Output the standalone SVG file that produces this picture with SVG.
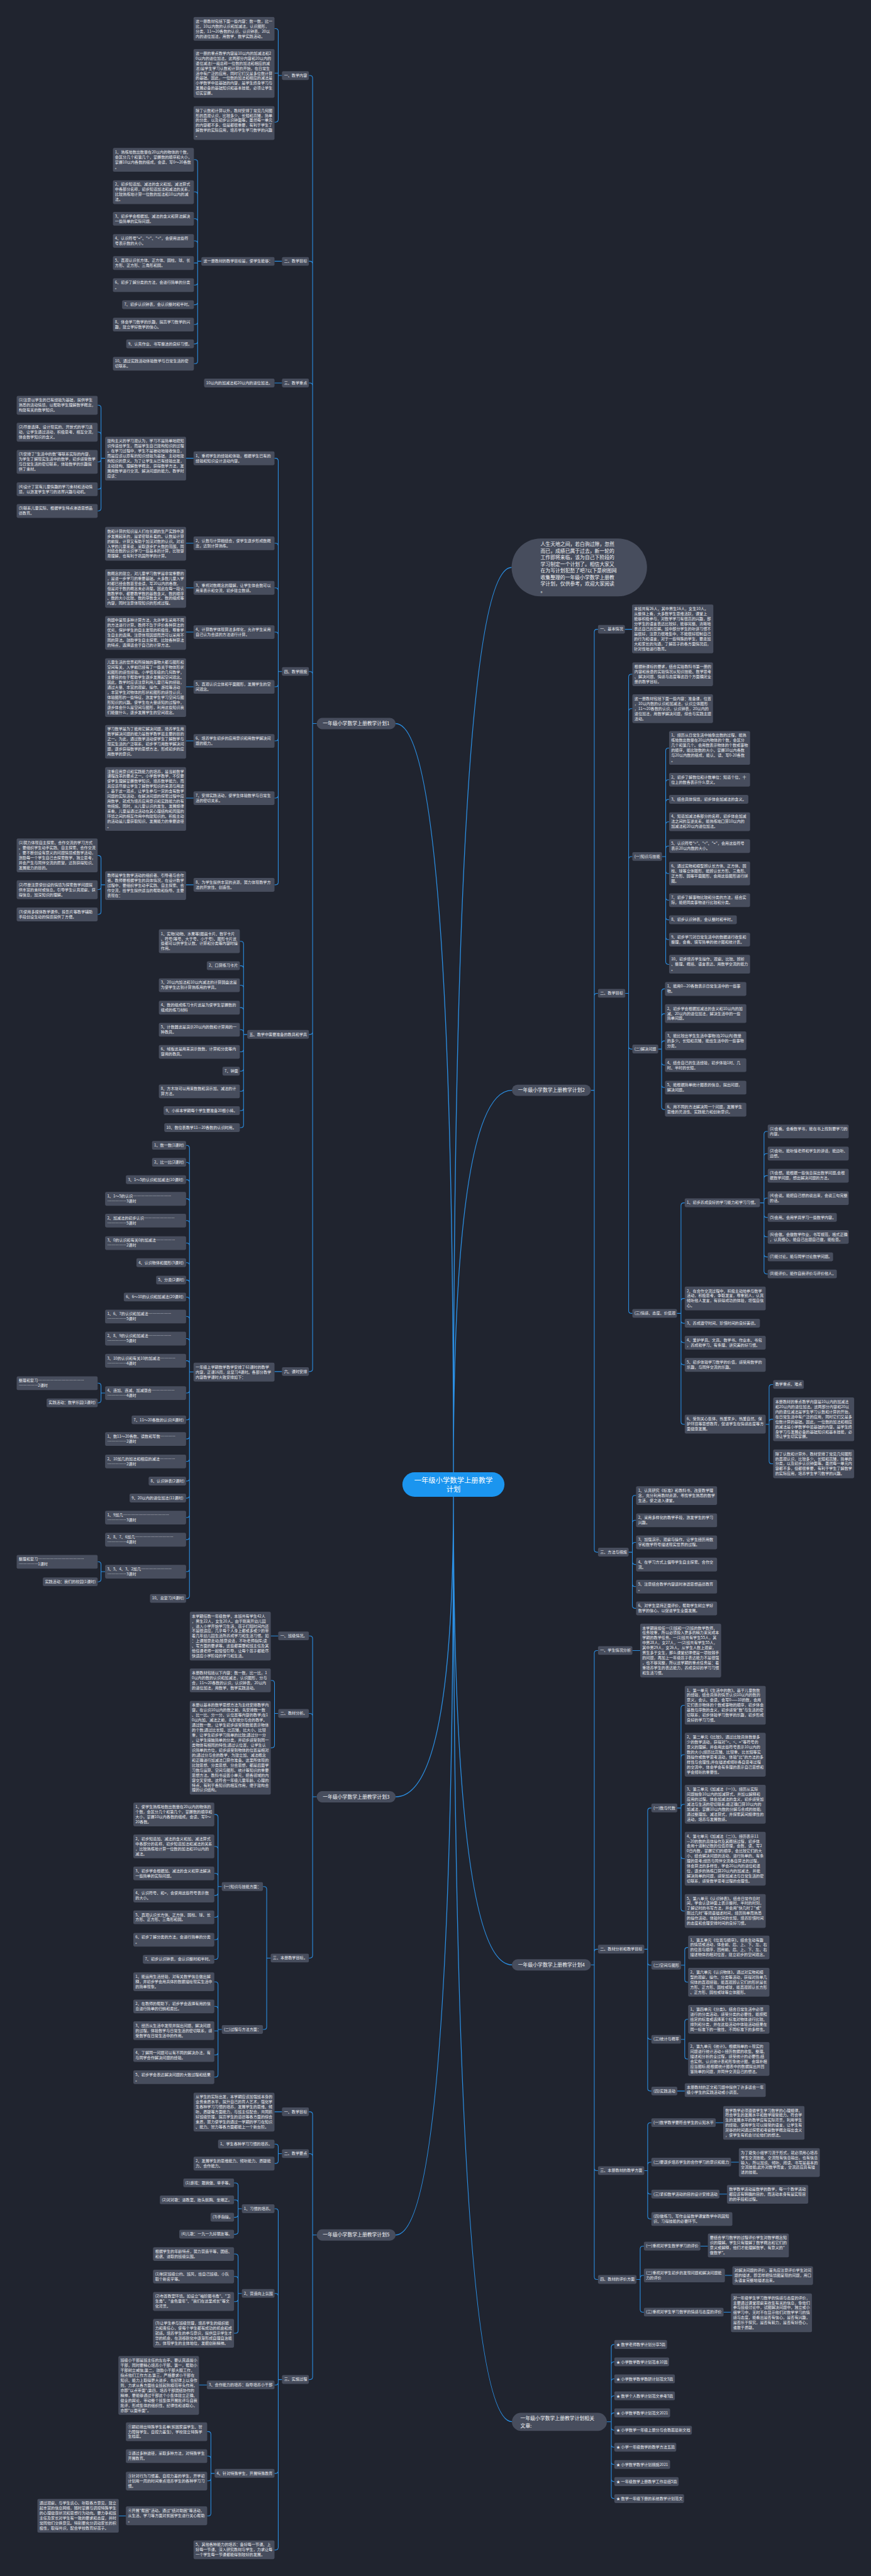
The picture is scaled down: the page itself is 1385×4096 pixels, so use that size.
<svg xmlns="http://www.w3.org/2000/svg" width="1385" height="4096" viewBox="0 0 1385 4096">
<style>
.n{fill:#474d5d}
.t{font-family:"Noto Sans CJK SC","Noto Sans",sans-serif;font-size:11.3px;fill:#e9ebef}
.p{font-family:"Noto Sans CJK SC","Noto Sans",sans-serif;font-size:14.5px;fill:#f2f3f5;text-anchor:middle}
.q{font-family:"Noto Sans CJK SC","Noto Sans",sans-serif;font-size:14.5px;fill:#f2f3f5}
.c{fill:none;stroke:#2b8fe3;stroke-width:2}
.m{fill:none;stroke:#2b8fe3;stroke-width:2.6}
</style>
<rect width="1385" height="4096" fill="#20242f"/>
<g transform="scale(0.5409)">
<g id="connectors">
<path class="m" d="M1333 4328Q1333 1668 1504 1668M1333 4328Q1333 2127 1163 2127M1333 4328Q1333 3205 1505 3205M1333 4400Q1333 5282 1163 5282M1333 4400Q1333 5776 1505 5776M1333 4400Q1333 6570 1163 6570M1333 4400Q1333 7119 1505 7119"/>
<path class="c" d="M931 2127H919V230Q919 222 911 222H908M931 2127H919V776Q919 768 911 768H908M931 2127H919V1134Q919 1126 911 1126H908M931 2127H919V1982Q919 1974 911 1974H908M931 2127H919V3033Q919 3041 911 3041H908M931 2127H919V4024Q919 4032 911 4032H908"/>
<path class="c" d="M829 222H818V92Q818 84 810 84H807M829 222H818V215H807M829 222H818V351Q818 359 810 359H807M829 768H807M829 1126H807M829 4032H807"/>
<path class="c" d="M592 768H581V477Q581 469 573 469H570M592 768H581V572Q581 564 573 564H570M592 768H581V651Q581 643 573 643H570M592 768H581V716Q581 708 573 708H570M592 768H581V773H570M592 768H581V830Q581 838 573 838H570M592 768H581V888Q581 896 573 896H570M592 768H581V946Q581 954 573 954H570M592 768H581V1003Q581 1011 573 1011H570M592 768H581V1061Q581 1069 573 1069H570"/>
<path class="c" d="M829 1974H818V1355Q818 1347 810 1347H807M829 1974H818V1605Q818 1597 810 1597H807M829 1974H818V1736Q818 1728 810 1728H807M829 1974H818V1866Q818 1858 810 1858H807M829 1974H818V2011Q818 2019 810 2019H807M829 1974H818V2170Q818 2178 810 2178H807M829 1974H818V2338Q818 2346 810 2346H807M829 1974H818V2593Q818 2601 810 2601H807"/>
<path class="c" d="M569 1347H547M569 1597H547M569 1728H547M569 1858H547M569 2019H547M569 2178H547M569 2346H547M569 2601H547"/>
<path class="c" d="M309 1347H297V1199Q297 1191 289 1191H287M309 1347H297V1278Q297 1270 289 1270H287M309 1347H297V1350Q297 1358 289 1358H287M309 1347H297V1430Q297 1438 289 1438H287M309 1347H297V1494Q297 1502 289 1502H287M309 2601H297V2523Q297 2515 289 2515H287M309 2601H297V2607Q297 2615 289 2615H287M309 2601H297V2680Q297 2688 289 2688H287"/>
<path class="c" d="M727 3041H716V2775Q716 2767 708 2767H705M727 3041H716V2847Q716 2839 708 2839H705M727 3041H716V2904Q716 2896 708 2896H705M727 3041H716V2970Q716 2962 708 2962H705M727 3041H716V3035Q716 3027 708 3027H705M727 3041H716V3084Q716 3092 708 3092H705M727 3041H716V3141Q716 3149 708 3149H705M727 3041H716V3200Q716 3208 708 3208H705M727 3041H716V3257Q716 3265 708 3265H705M727 3041H716V3307Q716 3315 708 3315H705"/>
<path class="c" d="M569 4033H557V3375Q557 3367 549 3367H547M569 4033H557V3425Q557 3417 549 3417H547M569 4033H557V3476Q557 3468 549 3468H547M569 4033H557V3532Q557 3524 549 3524H547M569 4033H557V3596Q557 3588 549 3588H547M569 4033H557V3662Q557 3654 549 3654H547M569 4033H557V3720Q557 3712 549 3712H547M569 4033H557V3771Q557 3763 549 3763H547M569 4033H557V3821Q557 3813 549 3813H547M569 4033H557V3878Q557 3870 549 3870H547M569 4033H557V3943Q557 3935 549 3935H547M569 4033H557V4008Q557 4000 549 4000H547M569 4033H557V4087Q557 4095 549 4095H547M569 4033H557V4166Q557 4174 549 4174H547M569 4033H557V4222Q557 4230 549 4230H547M569 4033H557V4288Q557 4296 549 4296H547M569 4033H557V4346Q557 4354 549 4354H547M569 4033H557V4396Q557 4404 549 4404H547M569 4033H557V4453Q557 4461 549 4461H547M569 4033H557V4518Q557 4526 549 4526H547M569 4033H557V4612Q557 4620 549 4620H547M569 4033H557V4691Q557 4699 549 4699H547"/>
<path class="c" d="M309 4095H297V4074Q297 4066 289 4066H287M309 4095H297V4116Q297 4124 289 4124H287M309 4620H297V4599Q297 4591 289 4591H287M309 4620H297V4642Q297 4650 289 4650H287"/>
<path class="c" d="M931 5282H919V4817Q919 4809 911 4809H908M931 5282H919V5045Q919 5037 911 5037H908M931 5282H919V5748Q919 5756 911 5756H908M818 4809H796M818 5037H807V4948Q807 4940 799 4940H796M818 5037H807V5130Q807 5138 799 5138H796M796 5756H784V5554Q784 5546 776 5546H773M796 5756H784V5958Q784 5966 776 5966H773"/>
<path class="c" d="M652 5546H641V5342Q641 5334 633 5334H630M652 5546H641V5436Q641 5428 633 5428H630M652 5546H641V5515Q641 5507 633 5507H630M652 5546H641V5564Q641 5572 633 5572H630M652 5546H641V5628Q641 5636 633 5636H630M652 5546H641V5694Q641 5702 633 5702H630M652 5546H641V5752Q641 5760 633 5760H630M652 5966H641V5834Q641 5826 633 5826H630M652 5966H641V5906Q641 5898 633 5898H630M652 5966H641V5970H630M652 5966H641V6033Q641 6041 633 6041H630M652 5966H641V6098Q641 6106 633 6106H630"/>
<path class="c" d="M931 6570H919V6216Q919 6208 911 6208H908M931 6570H919V6339Q919 6331 911 6331H908M931 6570H919V6987Q919 6995 911 6995H908M829 6208H807M829 6331H818V6311Q818 6303 810 6303H807M829 6331H818V6352Q818 6360 810 6360H807"/>
<path class="c" d="M829 6995H818V6501Q818 6493 810 6493H807M829 6995H818V6750Q818 6742 810 6742H807M829 6995H818V7003Q818 7011 810 7011H807M829 6995H818V7263Q818 7271 810 7271H807M829 6995H818V7488Q818 7496 810 7496H807"/>
<path class="c" d="M711 6493H700V6425Q700 6417 692 6417H688M711 6493H700V6475Q700 6467 692 6467H688M711 6493H700V6510Q700 6518 692 6518H688M711 6493H700V6560Q700 6568 692 6568H688M711 6742H700V6634Q700 6626 692 6626H688M711 6742H700V6700Q700 6692 692 6692H688M711 6742H700V6758Q700 6766 692 6766H688M711 6742H700V6851Q700 6859 692 6859H688M608 7011H585"/>
<path class="c" d="M631 7271H620V7156Q620 7148 612 7148H609M631 7271H620V7228Q620 7220 612 7220H609M631 7271H620V7285Q620 7293 612 7293H609M631 7271H620V7388Q620 7396 612 7396H609M370 7396H349"/>
<path class="c" d="M1737 3205H1747V1858Q1747 1850 1755 1850H1758M1737 3205H1747V2928Q1747 2920 1755 2920H1758M1737 3205H1747V4555Q1747 4563 1755 4563H1758M1837 1850H1858"/>
<path class="c" d="M1838 2920H1848V1990Q1848 1982 1856 1982H1859M1838 2920H1848V2091Q1848 2083 1856 2083H1859M1838 2920H1848V2526Q1848 2518 1856 2518H1859M1838 2920H1848V3076Q1848 3084 1856 3084H1859M1838 2920H1848V3853Q1848 3861 1856 3861H1859"/>
<path class="c" d="M1946 2518H1957V2207Q1957 2199 1965 2199H1967M1946 2518H1957V2300Q1957 2292 1965 2292H1967M1946 2518H1957V2358Q1957 2350 1965 2350H1967M1946 2518H1957V2424Q1957 2416 1965 2416H1967M1946 2518H1957V2495Q1957 2487 1965 2487H1967M1946 2518H1957V2560Q1957 2568 1965 2568H1967M1946 2518H1957V2638Q1957 2646 1965 2646H1967M1946 2518H1957V2696Q1957 2704 1965 2704H1967M1946 2518H1957V2754Q1957 2762 1965 2762H1967M1946 2518H1957V2827Q1957 2835 1965 2835H1967"/>
<path class="c" d="M1935 3084H1945V2915Q1945 2907 1953 2907H1955M1935 3084H1945V2988Q1945 2980 1953 2980H1955M1935 3084H1945V3068Q1945 3060 1953 3060H1955M1935 3084H1945V3123Q1945 3131 1953 3131H1955M1935 3084H1945V3189Q1945 3197 1953 3197H1955M1935 3084H1945V3254Q1945 3262 1953 3262H1955"/>
<path class="c" d="M1990 3861H2002V3544Q2002 3536 2010 3536H2013M1990 3861H2002V3825Q2002 3817 2010 3817H2013M1990 3861H2002V3882Q2002 3890 2010 3890H2013M1990 3861H2002V3939Q2002 3947 2010 3947H2013M1990 3861H2002V4004Q2002 4012 2010 4012H2013M1990 3861H2002V4179Q2002 4187 2010 4187H2013"/>
<path class="c" d="M2234 3536H2246V3334Q2246 3326 2254 3326H2257M2234 3536H2246V3399Q2246 3391 2254 3391H2257M2234 3536H2246V3464Q2246 3456 2254 3456H2257M2234 3536H2246V3530Q2246 3522 2254 3522H2257M2234 3536H2246V3571Q2246 3579 2254 3579H2257M2234 3536H2246V3628Q2246 3636 2254 3636H2257M2234 3536H2246V3687Q2246 3695 2254 3695H2257M2234 3536H2246V3737Q2246 3745 2254 3745H2257M2251 4187H2261V4078Q2261 4070 2269 4070H2273M2251 4187H2261V4180Q2261 4172 2269 4172H2273M2251 4187H2261V4295Q2261 4303 2269 4303H2273"/>
<path class="c" d="M1848 4563H1859V4404Q1859 4396 1867 4396H1870M1848 4563H1859V4477Q1859 4469 1867 4469H1870M1848 4563H1859V4542Q1859 4534 1867 4534H1870M1848 4563H1859V4591Q1859 4599 1867 4599H1870M1848 4563H1859V4656Q1859 4664 1867 4664H1870M1848 4563H1859V4720Q1859 4728 1867 4728H1870"/>
<path class="c" d="M1737 5776H1747V4860Q1747 4852 1755 4852H1758M1737 5776H1747V5738Q1747 5730 1755 5730H1758M1737 5776H1747V6373Q1747 6381 1755 6381H1758M1737 5776H1747V6693Q1747 6701 1755 6701H1758M1859 4852H1882"/>
<path class="c" d="M1894 5730H1904V5323Q1904 5315 1912 5315H1915M1894 5730H1904V5769Q1904 5777 1912 5777H1915M1894 5730H1904V5987Q1904 5995 1912 5995H1915M1894 5730H1904V6139Q1904 6147 1912 6147H1915"/>
<path class="c" d="M1991 5315H2002V5021Q2002 5013 2010 5013H2013M1991 5315H2002V5166Q2002 5158 2010 5158H2013M1991 5315H2002V5312Q2002 5304 2010 5304H2013M1991 5315H2002V5456Q2002 5464 2010 5464H2013M1991 5315H2002V5610Q2002 5618 2010 5618H2013M2002 5777H2013V5733Q2013 5725 2021 5725H2023M2002 5777H2013V5819Q2013 5827 2021 5827H2023M2002 5995H2013V5944Q2013 5936 2021 5936H2023M2002 5995H2013V6045Q2013 6053 2021 6053H2023M1991 6147H2013"/>
<path class="c" d="M1894 6381H1904V6248Q1904 6240 1912 6240H1915M1894 6381H1904V6364Q1904 6356 1912 6356H1915M1894 6381H1904V6442Q1904 6450 1912 6450H1915M1894 6381H1904V6515Q1904 6523 1912 6523H1915M2104 6240H2126M2149 6356H2172M2115 6450H2137"/>
<path class="c" d="M1871 6701H1882V6611Q1882 6603 1890 6603H1893M1871 6701H1882V6697Q1882 6689 1890 6689H1893M1871 6701H1882V6789Q1882 6797 1890 6797H1893M2059 6603H2081M2131 6689H2153M2127 6797H2149"/>
<path class="c" d="M1784 7119H1797V6900Q1797 6892 1805 6892H1806M1784 7119H1797V6951Q1797 6943 1805 6943H1806M1784 7119H1797V7001Q1797 6993 1805 6993H1806M1784 7119H1797V7051Q1797 7043 1805 7043H1806M1784 7119H1797V7101Q1797 7093 1805 7093H1806M1784 7119H1797V7136Q1797 7144 1805 7144H1806M1784 7119H1797V7186Q1797 7194 1805 7194H1806M1784 7119H1797V7237Q1797 7245 1805 7245H1806M1784 7119H1797V7287Q1797 7295 1805 7295H1806M1784 7119H1797V7337Q1797 7345 1805 7345H1806"/>
</g>

<g id="center"><rect x="1183" y="4328" width="300" height="72" rx="36" fill="#1b95ef"/><text class="p" x="1333" y="4359" style="font-size:21px;fill:#fff">一年级小学数学上册教学<tspan x="1333" dy="26">计划</tspan></text></g>

<g id="intro"><rect class="n" x="1504" y="1583" width="398" height="170" rx="85"/><text class="q" x="1589" y="1605">人生天地之间，若白驹过隙，忽然<tspan x="1589" dy="19.4">而已，成绩已属于过去，新一轮的</tspan><tspan x="1589" dy="19.4">工作即将来临，该为自己下阶段的</tspan><tspan x="1589" dy="19.4">学习制定一个计划了。相信大家又</tspan><tspan x="1589" dy="19.4">在为写计划犯愁了吧?以下是树图网</tspan><tspan x="1589" dy="19.4">收集整理的一年级小学数学上册教</tspan><tspan x="1589" dy="19.4">学计划，仅供参考，欢迎大家阅读</tspan><tspan x="1589" dy="21">。</tspan></text></g>

<!-- Plan 1 (left) -->
<g id="plan1"><rect class="n" x="931" y="2110.5" width="232" height="33" rx="16.5"/><text class="p" x="1047" y="2132">一年级小学数学上册教学计划1</text></g>
<g id="p1-a1"><rect class="n" x="829" y="209.5" width="79" height="25.7" rx="4"/><text class="t" x="835" y="225.8">一、教学内容</text></g>
<g id="p1-a1-1"><rect class="n" x="569" y="50" width="238" height="69.8" rx="4"/><text class="t" x="575" y="66.3">这一册教材包括下面一些内容：数一数，比一<tspan x="575" dy="14.7">比，10以内数的认识和加减法，认识图形，</tspan><tspan x="575" dy="14.7">分类，11～20各数的认识，认识钟表，20以</tspan><tspan x="575" dy="14.7">内的进位加法，用数学，数学实践活动。</tspan></text></g>
<g id="p1-a1-2"><rect class="n" x="569" y="144" width="238" height="143.3" rx="4"/><text class="t" x="575" y="160.3">这一册的重点教学内容是10以内的加减法和2<tspan x="575" dy="14.7">0以内的进位加法。这两部分内容和20以内的</tspan><tspan x="575" dy="14.7">退位减法(一般总称一位数的加法和相应的减</tspan><tspan x="575" dy="14.7">法)是学生学习认数和计算的开始，在日常生</tspan><tspan x="575" dy="14.7">活中有广泛的应用，同时它们又是多位数计算</tspan><tspan x="575" dy="14.7">的基础。因此，一位数的加法和相应的减法是</tspan><tspan x="575" dy="14.7">小学数学中最基础的内容，是学生终身学习与</tspan><tspan x="575" dy="14.7">发展必备的基础知识和基本技能，必须让学生</tspan><tspan x="575" dy="14.7">切实掌握。</tspan></text></g>
<g id="p1-a1-3"><rect class="n" x="569" y="312" width="238" height="99.2" rx="4"/><text class="t" x="575" y="328.3">除了认数和计算以外，教材安排了常见几何图<tspan x="575" dy="14.7">形的直观认识，比较多少、长短和高矮，简单</tspan><tspan x="575" dy="14.7">的分类，以及初步认识钟面等。虽然每一单元</tspan><tspan x="575" dy="14.7">的内容都不多，但是都很重要，有利于学生了</tspan><tspan x="575" dy="14.7">解数学的实际应用，培养学生学习数学的兴趣</tspan><tspan x="575" dy="14.7">。</tspan></text></g>
<g id="p1-a2"><rect class="n" x="829" y="755.5" width="79" height="25.7" rx="4"/><text class="t" x="835" y="771.8">二、教学目标</text></g>
<g id="p1-a2-0"><rect class="n" x="592" y="755.5" width="215" height="25.7" rx="4"/><text class="t" x="598" y="771.8">这一册教材的教学目标是，使学生能够：</text></g>
<g id="p1-a2-1"><rect class="n" x="332" y="435" width="238" height="69.8" rx="4"/><text class="t" x="338" y="451.3">1、熟练地数出数量在20以内的物体的个数，<tspan x="338" dy="14.7">会区分几个和第几个，掌握数的顺序和大小，</tspan><tspan x="338" dy="14.7">掌握10以内各数的组成，会读、写0～20各数</tspan><tspan x="338" dy="14.7">。</tspan></text></g>
<g id="p1-a2-2"><rect class="n" x="332" y="530" width="238" height="69.8" rx="4"/><text class="t" x="338" y="546.3">2、初步知道加、减法的含义和加、减法算式<tspan x="338" dy="14.7">中各部分名称，初步知道加法和减法的关系，</tspan><tspan x="338" dy="14.7">比较熟练地计算一位数的加法和10以内的减</tspan><tspan x="338" dy="14.7">法。</tspan></text></g>
<g id="p1-a2-3"><rect class="n" x="332" y="623" width="238" height="40.4" rx="4"/><text class="t" x="338" y="639.3">3、初步学会根据加、减法的含义和算法解决<tspan x="338" dy="14.7">一些简单的实际问题。</tspan></text></g>
<g id="p1-a2-4"><rect class="n" x="332" y="688" width="238" height="40.4" rx="4"/><text class="t" x="338" y="704.3">4、认识符号"="、"&gt;"、"&lt;"，会使用这些符<tspan x="338" dy="14.7">号表示数的大小。</tspan></text></g>
<g id="p1-a2-5"><rect class="n" x="332" y="753" width="238" height="40.4" rx="4"/><text class="t" x="338" y="769.3">5、直观认识长方体、正方体、圆柱、球、长<tspan x="338" dy="14.7">方形、正方形、三角形和圆。</tspan></text></g>
<g id="p1-a2-6"><rect class="n" x="332" y="818" width="238" height="40.4" rx="4"/><text class="t" x="338" y="834.3">6、初步了解分类的方法，会进行简单的分类<tspan x="338" dy="14.7">。</tspan></text></g>
<g id="p1-a2-7"><rect class="n" x="359" y="883" width="211" height="25.7" rx="4"/><text class="t" x="365" y="899.3">7、初步认识钟表，会认识整时和半时。</text></g>
<g id="p1-a2-8"><rect class="n" x="332" y="934" width="238" height="40.4" rx="4"/><text class="t" x="338" y="950.3">8、体会学习数学的乐趣，提高学习数学的兴<tspan x="338" dy="14.7">趣，建立学好数学的信心。</tspan></text></g>
<g id="p1-a2-9"><rect class="n" x="371" y="998" width="199" height="25.7" rx="4"/><text class="t" x="377" y="1014.3">9、认真作业、书写整洁的良好习惯。</text></g>
<g id="p1-a2-10"><rect class="n" x="332" y="1049" width="238" height="40.4" rx="4"/><text class="t" x="338" y="1065.3">10、通过实践活动体验数学与日常生活的密<tspan x="338" dy="14.7">切联系。</tspan></text></g>
<g id="p1-a3"><rect class="n" x="829" y="1113" width="79" height="25.7" rx="4"/><text class="t" x="835" y="1129.3">三、教学重点</text></g>
<g id="p1-a3-1"><rect class="n" x="600" y="1113" width="207" height="25.7" rx="4"/><text class="t" x="606" y="1129.3">10以内的加减法和20以内的进位加法。</text></g>
<g id="p1-a4"><rect class="n" x="829" y="1961" width="79" height="25.7" rx="4"/><text class="t" x="835" y="1977.3">四、教学措施</text></g>
<g id="p1-m1"><rect class="n" x="569" y="1327" width="238" height="40.4" rx="4"/><text class="t" x="575" y="1343.3">1、重视学生的经验和体验，根据学生已有的<tspan x="575" dy="14.7">经验和知识设计活动内容。</tspan></text></g>
<g id="p1-m1c"><rect class="n" x="309" y="1284" width="238" height="128.6" rx="4"/><text class="t" x="315" y="1300.3">建构主义的学习观认为，学习不是简单地把知<tspan x="315" dy="14.7">识传递给学生，而是学生自己建构知识的过程</tspan><tspan x="315" dy="14.7">。在学习过程中，学生不是被动地接收信息，</tspan><tspan x="315" dy="14.7">而是应该以原有的知识经验为基础，主动地建</tspan><tspan x="315" dy="14.7">构知识的意义。为了让学生从已有经验出发，</tspan><tspan x="315" dy="14.7">主动建构、理解数学概念，获得数学方法，发</tspan><tspan x="315" dy="14.7">展用数学进行交流、解决问题的能力。教学时</tspan><tspan x="315" dy="14.7">应该：</tspan></text></g>
<g id="p1-m1c1"><rect class="n" x="49" y="1164" width="238" height="55.1" rx="4"/><text class="t" x="55" y="1180.3">(1)注意以学生的已有经验为基础，提供学生<tspan x="55" dy="14.7">熟悉的活动情境，以帮助学生理解数学概念，</tspan><tspan x="55" dy="14.7">构建有关的数学知识。</tspan></text></g>
<g id="p1-m1c2"><rect class="n" x="49" y="1243" width="238" height="55.1" rx="4"/><text class="t" x="55" y="1259.3">(2)尽量选择、设计现实的、开放式的学习活<tspan x="55" dy="14.7">动，让学生通过活动，积极思考、相互交流，</tspan><tspan x="55" dy="14.7">体会数学知识的含义。</tspan></text></g>
<g id="p1-m1c3"><rect class="n" x="49" y="1323" width="238" height="69.8" rx="4"/><text class="t" x="55" y="1339.3">(3)安排了"生活中的数"等联系实际的内容，<tspan x="55" dy="14.7">为学生了解现实生活中的数学，初步感受数学</tspan><tspan x="55" dy="14.7">与日常生活的密切联系，体验数学的乐趣提</tspan><tspan x="55" dy="14.7">供了素材。</tspan></text></g>
<g id="p1-m1c4"><rect class="n" x="49" y="1418" width="238" height="40.4" rx="4"/><text class="t" x="55" y="1434.3">(4)设计了富有儿童情趣的学习素材和活动情<tspan x="55" dy="14.7">境，以激发学生学习的浓厚兴趣与动机。</tspan></text></g>
<g id="p1-m1c5"><rect class="n" x="49" y="1482" width="238" height="40.4" rx="4"/><text class="t" x="55" y="1498.3">(5)联系儿童实际、根据学生特点渗透思想品<tspan x="55" dy="14.7">德教育。</tspan></text></g>
<g id="p1-m2"><rect class="n" x="569" y="1577" width="238" height="40.4" rx="4"/><text class="t" x="575" y="1593.3">2、认数与计算相结合，使学生逐步形成数概<tspan x="575" dy="14.7">念，达到计算熟练。</tspan></text></g>
<g id="p1-m2c"><rect class="n" x="309" y="1549" width="238" height="99.2" rx="4"/><text class="t" x="315" y="1565.3">数和计算的知识是人们在长期的生产实践中逐<tspan x="315" dy="14.7">步发展起来的，是紧密联系着的。认数是计算</tspan><tspan x="315" dy="14.7">的前提，计算又有助于加深对数的认识。对初</tspan><tspan x="315" dy="14.7">入学的儿童来说，采取逐步扩大数的范围，同</tspan><tspan x="315" dy="14.7">时结合数的认识学习一些基本的计算，比较容</tspan><tspan x="315" dy="14.7">易理解，也有利于巩固所学的计算。</tspan></text></g>
<g id="p1-m3"><rect class="n" x="569" y="1708" width="238" height="40.4" rx="4"/><text class="t" x="575" y="1724.3">3、重视对数概念的理解，让学生体会数可以<tspan x="575" dy="14.7">用来表示和交流，初步建立数感。</tspan></text></g>
<g id="p1-m3c"><rect class="n" x="309" y="1673" width="238" height="113.9" rx="4"/><text class="t" x="315" y="1689.3">数概念的建立，对儿童学习数学是非常重要的<tspan x="315" dy="14.7">，是进一步学习的重要基础。大多数儿童入学</tspan><tspan x="315" dy="14.7">时都已经会数甚至会读、写20以内的各数，</tspan><tspan x="315" dy="14.7">但是对于数的概念未必清楚。因此在每一段认</tspan><tspan x="315" dy="14.7">数教学中，都要教学数的基数含义、数的顺序</tspan><tspan x="315" dy="14.7">、数的大小比较、数的序数含义、数的组成等</tspan><tspan x="315" dy="14.7">内容，同时注意体现知识的形成过程。</tspan></text></g>
<g id="p1-m4"><rect class="n" x="569" y="1838" width="238" height="40.4" rx="4"/><text class="t" x="575" y="1854.3">4、计算教学体现算法多样化，允许学生采用<tspan x="575" dy="14.7">自己认为合适的方法进行计算。</tspan></text></g>
<g id="p1-m4c"><rect class="n" x="309" y="1811" width="238" height="99.2" rx="4"/><text class="t" x="315" y="1827.3">例题中呈现多种计算方法，允许学生采用不同<tspan x="315" dy="14.7">的方法进行计算。教师不急于评价各种算法的</tspan><tspan x="315" dy="14.7">优劣，保护学生的自主发现的积极性，尊重学</tspan><tspan x="315" dy="14.7">生自主的选择。注意体现因题而异可以采用不</tspan><tspan x="315" dy="14.7">同的算法。鼓励学生自主探索、比较各种算法</tspan><tspan x="315" dy="14.7">的特点，选择适合于自己的计算方法。</tspan></text></g>
<g id="p1-m5"><rect class="n" x="569" y="1999" width="238" height="40.4" rx="4"/><text class="t" x="575" y="2015.3">5、直观认识立体和平面图形，发展学生的空<tspan x="575" dy="14.7">间观念。</tspan></text></g>
<g id="p1-m5c"><rect class="n" x="309" y="1935" width="238" height="172.7" rx="4"/><text class="t" x="315" y="1951.3">儿童生活的世界和所接触的事物大都与图形和<tspan x="315" dy="14.7">空间有关，入学前已经有了一些关于物体形状</tspan><tspan x="315" dy="14.7">和图形的感性经验。小学低年级的几何教学，</tspan><tspan x="315" dy="14.7">主要目的在于帮助学生逐步发展起空间观念。</tspan><tspan x="315" dy="14.7">因此，教学时应该注意利用儿童已有的经验，</tspan><tspan x="315" dy="14.7">通过大量、丰富的观察、操作、游戏等活动</tspan><tspan x="315" dy="14.7">，丰富学生对物体的形状和图形的感性认识，</tspan><tspan x="315" dy="14.7">体验图形的一些特征，激发学生学习空间与图</tspan><tspan x="315" dy="14.7">形知识的兴趣。使学生在大量感知的过程中，</tspan><tspan x="315" dy="14.7">逐步体会什么是空间与图形，利用这些知识我</tspan><tspan x="315" dy="14.7">们能做什么，逐步发展学生的空间观念。</tspan></text></g>
<g id="p1-m6"><rect class="n" x="569" y="2158" width="238" height="40.4" rx="4"/><text class="t" x="575" y="2174.3">6、培养学生初步的应用意识和用数学解决问<tspan x="575" dy="14.7">题的能力。</tspan></text></g>
<g id="p1-m6c"><rect class="n" x="309" y="2131" width="238" height="99.2" rx="4"/><text class="t" x="315" y="2147.3">学习数学是为了能用它解决问题，培养学生用<tspan x="315" dy="14.7">数学解决问题的能力是数学教学最主要的目的</tspan><tspan x="315" dy="14.7">之一。为此，通过数学活动使学生了解数学与</tspan><tspan x="315" dy="14.7">现实生活的广泛联系，初步学习用数学解决问</tspan><tspan x="315" dy="14.7">题，逐步获得数学的思想方法，形成初步的应</tspan><tspan x="315" dy="14.7">用数学的意识。</tspan></text></g>
<g id="p1-m7"><rect class="n" x="569" y="2326" width="238" height="40.4" rx="4"/><text class="t" x="575" y="2342.3">7、安排实践活动，使学生体验数学与日常生<tspan x="575" dy="14.7">活的密切关系。</tspan></text></g>
<g id="p1-m7c"><rect class="n" x="309" y="2255" width="238" height="187.4" rx="4"/><text class="t" x="315" y="2271.3">注重应用意识和实践能力的培养，是当前数学<tspan x="315" dy="14.7">课程改革的要点之一。小学数学教学，不仅要</tspan><tspan x="315" dy="14.7">使学生理解掌握数学知识，培养数学能力，而</tspan><tspan x="315" dy="14.7">且应该尽量让学生了解数学知识的来源与用途</tspan><tspan x="315" dy="14.7">。基于这一观点，让学生参与一定的含有数学</tspan><tspan x="315" dy="14.7">问题的实际活动，在解决问题的探索过程中应</tspan><tspan x="315" dy="14.7">用数学，就成为培养应用意识和实践能力的有</tspan><tspan x="315" dy="14.7">效措施。同时，从儿童认识的发生、发展规律</tspan><tspan x="315" dy="14.7">来看，儿童是通过活动在其心理结构和周围的</tspan><tspan x="315" dy="14.7">环境之间的相互作用中构建知识的。积极主动</tspan><tspan x="315" dy="14.7">的活动是儿童获取知识、发展能力的重要途径</tspan><tspan x="315" dy="14.7">。</tspan></text></g>
<g id="p1-m8"><rect class="n" x="569" y="2581" width="238" height="40.4" rx="4"/><text class="t" x="575" y="2597.3">8、为学生提供丰富的资源，努力体现教学方<tspan x="575" dy="14.7">法的开放性、创造性。</tspan></text></g>
<g id="p1-m8c"><rect class="n" x="309" y="2561" width="238" height="84.5" rx="4"/><text class="t" x="315" y="2577.3">教师是学生数学活动的组织者、引导者与合作<tspan x="315" dy="14.7">者。教师要根据学生的具体情况，在设计教学</tspan><tspan x="315" dy="14.7">过程中，要组织学生动手实践、自主探索、合</tspan><tspan x="315" dy="14.7">作交流，给学生提供适当的帮助和指导。主要</tspan><tspan x="315" dy="14.7">表现在：</tspan></text></g>
<g id="p1-m8c1"><rect class="n" x="49" y="2465" width="238" height="99.2" rx="4"/><text class="t" x="55" y="2481.3">(1)努力体现自主探索、合作交流的学习方式<tspan x="55" dy="14.7">。要组织学生动手实践、自主探索、合作交流</tspan><tspan x="55" dy="14.7">，要不断创设有意义的问题情境或数学活动，</tspan><tspan x="55" dy="14.7">激励每一个学生自己去探索数学，独立思考，</tspan><tspan x="55" dy="14.7">并会产生与同伴交流的愿望，达到获得知识、</tspan><tspan x="55" dy="14.7">发展能力的目的。</tspan></text></g>
<g id="p1-m8c2"><rect class="n" x="49" y="2588" width="238" height="55.1" rx="4"/><text class="t" x="55" y="2604.3">(2)尽量注意使创设的情境为探索数学问题提<tspan x="55" dy="14.7">供丰富的素材或信息。引导学生认真观察、获</tspan><tspan x="55" dy="14.7">得信息，加深知识的理解。</tspan></text></g>
<g id="p1-m8c3"><rect class="n" x="49" y="2668" width="238" height="40.4" rx="4"/><text class="t" x="55" y="2684.3">(3)使用多媒体教学课件、投影片等教学辅助<tspan x="55" dy="14.7">手段创设生动的情境提供了方便。</tspan></text></g>
<g id="p1-a5"><rect class="n" x="727" y="3028" width="181" height="25.7" rx="4"/><text class="t" x="733" y="3044.3">五、教学中需要准备的教具和学具</text></g>
<g id="p1-t1"><rect class="n" x="467" y="2732" width="238" height="69.8" rx="4"/><text class="t" x="473" y="2748.3">1、实物(动物、水果等)图画卡片、数字卡片<tspan x="473" dy="14.7">、符号(等号、大于号、小于号)、图形卡片这</tspan><tspan x="473" dy="14.7">些都可以供学生认数、计算和分类等内容时操</tspan><tspan x="473" dy="14.7">作用。</tspan></text></g>
<g id="p1-t2"><rect class="n" x="608" y="2826" width="97" height="25.7" rx="4"/><text class="t" x="614" y="2842.3">2、口算练习卡片</text></g>
<g id="p1-t3"><rect class="n" x="467" y="2876" width="238" height="40.4" rx="4"/><text class="t" x="473" y="2892.3">3、20以内加法和10以内减法的计算圆盘这是<tspan x="473" dy="14.7">为使学生达到计算熟练用的学具。</tspan></text></g>
<g id="p1-t4"><rect class="n" x="467" y="2942" width="238" height="40.4" rx="4"/><text class="t" x="473" y="2958.3">4、数的组成练习卡片这是为使学生掌握数的<tspan x="473" dy="14.7">组成的练习材料</tspan></text></g>
<g id="p1-t5"><rect class="n" x="467" y="3007" width="238" height="40.4" rx="4"/><text class="t" x="473" y="3023.3">5、计数器这是演示20以内的数和计算用的一<tspan x="473" dy="14.7">种教具。</tspan></text></g>
<g id="p1-t6"><rect class="n" x="467" y="3072" width="238" height="40.4" rx="4"/><text class="t" x="473" y="3088.3">6、绒板这是用来演示数数、计算和分类等内<tspan x="473" dy="14.7">容用的教具。</tspan></text></g>
<g id="p1-t7"><rect class="n" x="654" y="3136" width="51" height="25.7" rx="4"/><text class="t" x="660" y="3152.3">7、钟面</text></g>
<g id="p1-t8"><rect class="n" x="467" y="3188" width="238" height="40.4" rx="4"/><text class="t" x="473" y="3204.3">8、方木块可以用来数数和演示加、减法的计<tspan x="473" dy="14.7">算方法。</tspan></text></g>
<g id="p1-t9"><rect class="n" x="481" y="3252" width="224" height="25.7" rx="4"/><text class="t" x="487" y="3268.3">9、小棒本学期每个学生要准备20根小棒。</text></g>
<g id="p1-t10"><rect class="n" x="483" y="3302" width="222" height="25.7" rx="4"/><text class="t" x="489" y="3318.3">10、数位表教学11—20各数的认识时用。</text></g>
<g id="p1-a6"><rect class="n" x="829" y="4019" width="79" height="25.7" rx="4"/><text class="t" x="835" y="4035.3">六、课时安排</text></g>
<g id="p1-a6c"><rect class="n" x="569" y="4006" width="238" height="55.1" rx="4"/><text class="t" x="575" y="4022.3">一年级上学期数学教学安排了61课时的教学<tspan x="575" dy="14.7">内容，正课16周，总复习4课时。各部分教学</tspan><tspan x="575" dy="14.7">内容教学课时大致安排如下：</tspan></text></g>
<g id="p1-k1"><rect class="n" x="447" y="3354" width="100" height="25.7" rx="4"/><text class="t" x="453" y="3370.3">1、数一数(1课时)</text></g>
<g id="p1-k2"><rect class="n" x="447" y="3404" width="100" height="25.7" rx="4"/><text class="t" x="453" y="3420.3">2、比一比(2课时)</text></g>
<g id="p1-k3"><rect class="n" x="370" y="3455" width="177" height="25.7" rx="4"/><text class="t" x="376" y="3471.3">3、1～5的认识和加减法(10课时)</text></g>
<g id="p1-k3a"><rect class="n" x="309" y="3504" width="238" height="40.4" rx="4"/><text class="t" x="315" y="3520.3">1、1～5的认识…………………………<tspan x="315" dy="14.7">……………3课时</tspan></text></g>
<g id="p1-k3b"><rect class="n" x="309" y="3568" width="238" height="40.4" rx="4"/><text class="t" x="315" y="3584.3">2、加减法的初步认识……………………<tspan x="315" dy="14.7">……………5课时</tspan></text></g>
<g id="p1-k3c"><rect class="n" x="309" y="3634" width="238" height="40.4" rx="4"/><text class="t" x="315" y="3650.3">3、0的认识和有关0的加减法……………<tspan x="315" dy="14.7">……………2课时</tspan></text></g>
<g id="p1-k4"><rect class="n" x="401" y="3699" width="146" height="25.7" rx="4"/><text class="t" x="407" y="3715.3">4、认识物体和图形(3课时)</text></g>
<g id="p1-k5"><rect class="n" x="459" y="3750" width="88" height="25.7" rx="4"/><text class="t" x="465" y="3766.3">5、分类(2课时)</text></g>
<g id="p1-k6"><rect class="n" x="364" y="3800" width="183" height="25.7" rx="4"/><text class="t" x="370" y="3816.3">6、6～10的认识和加减法(20课时)</text></g>
<g id="p1-k6a"><rect class="n" x="309" y="3850" width="238" height="40.4" rx="4"/><text class="t" x="315" y="3866.3">1、6、7的认识和加减法………………<tspan x="315" dy="14.7">……………5课时</tspan></text></g>
<g id="p1-k6b"><rect class="n" x="309" y="3915" width="238" height="40.4" rx="4"/><text class="t" x="315" y="3931.3">2、8、9的认识和加减法………………<tspan x="315" dy="14.7">……………5课时</tspan></text></g>
<g id="p1-k6c"><rect class="n" x="309" y="3980" width="238" height="40.4" rx="4"/><text class="t" x="315" y="3996.3">3、10的认识和有关10的加减法…………<tspan x="315" dy="14.7">……………4课时</tspan></text></g>
<g id="p1-k6d"><rect class="n" x="309" y="4075" width="238" height="40.4" rx="4"/><text class="t" x="315" y="4091.3">4、连加、连减、加减混合………………<tspan x="315" dy="14.7">……………4课时</tspan></text></g>
<g id="p1-k6d1"><rect class="n" x="49" y="4046" width="238" height="40.4" rx="4"/><text class="t" x="55" y="4062.3">整理和复习………………………………<tspan x="55" dy="14.7">……………2课时</tspan></text></g>
<g id="p1-k6d2"><rect class="n" x="137" y="4111" width="150" height="25.7" rx="4"/><text class="t" x="143" y="4127.3">实践活动：数学乐园(1课时)</text></g>
<g id="p1-k7"><rect class="n" x="387" y="4161" width="160" height="25.7" rx="4"/><text class="t" x="393" y="4177.3">7、11～20各数的认识(4课时)</text></g>
<g id="p1-k7a"><rect class="n" x="309" y="4210" width="238" height="40.4" rx="4"/><text class="t" x="315" y="4226.3">1、数11～20各数、读数和写数…………<tspan x="315" dy="14.7">……………2课时</tspan></text></g>
<g id="p1-k7b"><rect class="n" x="309" y="4276" width="238" height="40.4" rx="4"/><text class="t" x="315" y="4292.3">2、10加几的加法和相应的减法…………<tspan x="315" dy="14.7">……………2课时</tspan></text></g>
<g id="p1-k8"><rect class="n" x="437" y="4341" width="110" height="25.7" rx="4"/><text class="t" x="443" y="4357.3">8、认识钟表(2课时)</text></g>
<g id="p1-k9"><rect class="n" x="381" y="4391" width="166" height="25.7" rx="4"/><text class="t" x="387" y="4407.3">9、20以内的进位加法(11课时)</text></g>
<g id="p1-k9a"><rect class="n" x="309" y="4441" width="238" height="40.4" rx="4"/><text class="t" x="315" y="4457.3">1、9加几………………………………<tspan x="315" dy="14.7">……………3课时</tspan></text></g>
<g id="p1-k9b"><rect class="n" x="309" y="4506" width="238" height="40.4" rx="4"/><text class="t" x="315" y="4522.3">2、8、7、6加几…………………………<tspan x="315" dy="14.7">……………4课时</tspan></text></g>
<g id="p1-k9c"><rect class="n" x="309" y="4600" width="238" height="40.4" rx="4"/><text class="t" x="315" y="4616.3">3、5、4、3、2加几……………………<tspan x="315" dy="14.7">……………3课时</tspan></text></g>
<g id="p1-k9c1"><rect class="n" x="49" y="4571" width="238" height="40.4" rx="4"/><text class="t" x="55" y="4587.3">整理和复习………………………………<tspan x="55" dy="14.7">……………1课时</tspan></text></g>
<g id="p1-k9c2"><rect class="n" x="126" y="4637" width="161" height="25.7" rx="4"/><text class="t" x="132" y="4653.3">实践活动：我们的校园(1课时)</text></g>
<g id="p1-k10"><rect class="n" x="441" y="4686" width="106" height="25.7" rx="4"/><text class="t" x="447" y="4702.3">10、总复习(4课时)</text></g>

<!-- Plan 3 (left) -->
<g id="plan3"><rect class="n" x="931" y="5265.5" width="232" height="33" rx="16.5"/><text class="p" x="1047" y="5287">一年级小学数学上册教学计划3</text></g>
<g id="p3-b1"><rect class="n" x="818" y="4796" width="90" height="25.7" rx="4"/><text class="t" x="824" y="4812.3">一、班级情况。</text></g>
<g id="p3-b1c"><rect class="n" x="558" y="4738" width="238" height="143.3" rx="4"/><text class="t" x="564" y="4754.3">本学期任教一年级数学，本班共有学生42人<tspan x="564" dy="14.7">，男生22人，女生20人。由于刚离开幼儿园</tspan><tspan x="564" dy="14.7">，进入小学开始学习生活，孩子们短时间内还</tspan><tspan x="564" dy="14.7">不是很适应，几乎每个人身上都或多或少的带</tspan><tspan x="564" dy="14.7">着几年幼儿园生活所养成学习和生活习惯。如</tspan><tspan x="564" dy="14.7">：上课随意走动;随意说话，不听老师指挥;读</tspan><tspan x="564" dy="14.7">、写方面的要求等。这些都需要和班主任及其</tspan><tspan x="564" dy="14.7">他任课老师一起慢慢引导，让每个孩子都能尽</tspan><tspan x="564" dy="14.7">快适应小学阶段的学习和生活。</tspan></text></g>
<g id="p3-b2"><rect class="n" x="818" y="5024" width="90" height="25.7" rx="4"/><text class="t" x="824" y="5040.3">二、教材分析。</text></g>
<g id="p3-b2c1"><rect class="n" x="558" y="4905" width="238" height="69.8" rx="4"/><text class="t" x="564" y="4921.3">本册教材包括以下内容：数一数，比一比，1<tspan x="564" dy="14.7">0以内的数的认识和加减法，认识图形，分与</tspan><tspan x="564" dy="14.7">合，11～20各数的认识，认识钟表，20以内</tspan><tspan x="564" dy="14.7">的进位加法，用数学，数学实践活动。</tspan></text></g>
<g id="p3-b2c2"><rect class="n" x="558" y="5000" width="238" height="275.6" rx="4"/><text class="t" x="564" y="5016.3">本册以基本的数学思想方法为主线安排教学内<tspan x="564" dy="14.7">容。在认识10以内的数之前，先安排数一数</tspan><tspan x="564" dy="14.7">、比一比、分一分、认位置等内容的教学;在1</tspan><tspan x="564" dy="14.7">0以内加、减法之前，先安排分与合的教学。</tspan><tspan x="564" dy="14.7">通过数一数，让学生初步感受到数能表示物体</tspan><tspan x="564" dy="14.7">的个数;通过比长短、比高矮，比大小、比轻</tspan><tspan x="564" dy="14.7">重，让学生初步学习简单的比较;通过分一分</tspan><tspan x="564" dy="14.7">，让学生接触简单的分类，并初步感受到同一</tspan><tspan x="564" dy="14.7">类物体有相同的特性;通过认位置，让学生认</tspan><tspan x="564" dy="14.7">识简单的方位，初步感受到物体的位置是相对</tspan><tspan x="564" dy="14.7">的;通过分与合的教学，为建立加、减法概念</tspan><tspan x="564" dy="14.7">和正确进行加减法口算作准备。这里所体现的</tspan><tspan x="564" dy="14.7">比较思想、分类思想、分合思想，都是后面学</tspan><tspan x="564" dy="14.7">习数与运算、空间与图形、统计等知识的重要</tspan><tspan x="564" dy="14.7">思想方法。教科书设置小单元，把各领域的内</tspan><tspan x="564" dy="14.7">容交叉安排。这符合一年级儿童年龄、心理的</tspan><tspan x="564" dy="14.7">特点，有利于各知识的相互作用，便于建构合</tspan><tspan x="564" dy="14.7">理的认识结构。</tspan></text></g>
<g id="p3-b3"><rect class="n" x="796" y="5743" width="112" height="25.7" rx="4"/><text class="t" x="802" y="5759.3">三、本册教学目标。</text></g>
<g id="p3-b3a"><rect class="n" x="652" y="5533" width="121" height="25.7" rx="4"/><text class="t" x="658" y="5549.3">(一)知识与技能方面：</text></g>
<g id="p3-b3a1"><rect class="n" x="392" y="5299" width="238" height="69.8" rx="4"/><text class="t" x="398" y="5315.3">1、使学生熟练地数出数量在20以内的物体的<tspan x="398" dy="14.7">个数，会区分几个和第几个，掌握数的顺序和</tspan><tspan x="398" dy="14.7">大小，掌握10以内各数的组成，会读、写0～</tspan><tspan x="398" dy="14.7">20各数。</tspan></text></g>
<g id="p3-b3a2"><rect class="n" x="392" y="5393" width="238" height="69.8" rx="4"/><text class="t" x="398" y="5409.3">2、初步知道加、减法的含义和加、减法算式<tspan x="398" dy="14.7">中各部分的名称，初步知道加法和减法的关系</tspan><tspan x="398" dy="14.7">，比较熟练地计算一位数的加法和10以内的</tspan><tspan x="398" dy="14.7">减法。</tspan></text></g>
<g id="p3-b3a3"><rect class="n" x="392" y="5487" width="238" height="40.4" rx="4"/><text class="t" x="398" y="5503.3">3、初步学会根据加、减法的含义和算法解决<tspan x="398" dy="14.7">一些简单的实际问题。</tspan></text></g>
<g id="p3-b3a4"><rect class="n" x="392" y="5552" width="238" height="40.4" rx="4"/><text class="t" x="398" y="5568.3">4、认识符号、和=，会使用这些符号表示数<tspan x="398" dy="14.7">的大小。</tspan></text></g>
<g id="p3-b3a5"><rect class="n" x="392" y="5616" width="238" height="40.4" rx="4"/><text class="t" x="398" y="5632.3">5、直观认识长方体、正方体、圆柱、球、长<tspan x="398" dy="14.7">方形、正方形、三角形和圆。</tspan></text></g>
<g id="p3-b3a6"><rect class="n" x="392" y="5682" width="238" height="40.4" rx="4"/><text class="t" x="398" y="5698.3">6、初步了解分类的方法，会进行简单的分类<tspan x="398" dy="14.7">。</tspan></text></g>
<g id="p3-b3a7"><rect class="n" x="420" y="5747" width="210" height="25.7" rx="4"/><text class="t" x="426" y="5763.3">7、初步认识钟表，会认识整时和半时。</text></g>
<g id="p3-b3b"><rect class="n" x="652" y="5953" width="121" height="25.7" rx="4"/><text class="t" x="658" y="5969.3">(二)过程与方法方面：</text></g>
<g id="p3-b3b1"><rect class="n" x="392" y="5798" width="238" height="55.1" rx="4"/><text class="t" x="398" y="5814.3">1、能运用生活经验，对有关数学信息做出解<tspan x="398" dy="14.7">释，并初步学会用具体的数据描绘现实生活中</tspan><tspan x="398" dy="14.7">的简单现象。</tspan></text></g>
<g id="p3-b3b2"><rect class="n" x="392" y="5878" width="238" height="40.4" rx="4"/><text class="t" x="398" y="5894.3">2、在教师的帮助下，初步学会选择有用的信<tspan x="398" dy="14.7">息进行简单的归纳和类比。</tspan></text></g>
<g id="p3-b3b3"><rect class="n" x="392" y="5942" width="238" height="55.1" rx="4"/><text class="t" x="398" y="5958.3">3、经历从生活中发现并提出问题、解决问题<tspan x="398" dy="14.7">的过程，体验数学与日常生活的密切联系，感</tspan><tspan x="398" dy="14.7">受数学在日常生活中的作用。</tspan></text></g>
<g id="p3-b3b4"><rect class="n" x="392" y="6021" width="238" height="40.4" rx="4"/><text class="t" x="398" y="6037.3">4、了解同一问题可以有不同的解决办法，有<tspan x="398" dy="14.7">与同学合作解决问题的经验。</tspan></text></g>
<g id="p3-b3b5"><rect class="n" x="392" y="6086" width="238" height="40.4" rx="4"/><text class="t" x="398" y="6102.3">5、初步学会表达解决问题的大致过程和结果<tspan x="398" dy="14.7">。</tspan></text></g>

<!-- Plan 5 (left) -->
<g id="plan5"><rect class="n" x="931" y="6553.5" width="232" height="33" rx="16.5"/><text class="p" x="1047" y="6575">一年级小学数学上册教学计划5</text></g>
<g id="p5-c1"><rect class="n" x="829" y="6195" width="79" height="25.7" rx="4"/><text class="t" x="835" y="6211.3">一、教学目标</text></g>
<g id="p5-c1c"><rect class="n" x="569" y="6152" width="238" height="113.9" rx="4"/><text class="t" x="575" y="6168.3">从学生的实际出发，本学期应该加强班本身的<tspan x="575" dy="14.7">业务素质水平，提升自己的育人艺术，强化学</tspan><tspan x="575" dy="14.7">生各种学习习惯的培养，发展学生的思维、倾</tspan><tspan x="575" dy="14.7">听、质疑等方面能力，与班主任配合，共同抓</tspan><tspan x="575" dy="14.7">好班级管理，提高学生的道德等各方面的综合</tspan><tspan x="575" dy="14.7">素质，努力使学生的通过一学期的学习在知识</tspan><tspan x="575" dy="14.7">、能力、智力等各方面都能上一个新台阶。</tspan></text></g>
<g id="p5-c2"><rect class="n" x="829" y="6318" width="79" height="25.7" rx="4"/><text class="t" x="835" y="6334.3">二、教学要点</text></g>
<g id="p5-c2a"><rect class="n" x="641" y="6290" width="166" height="25.7" rx="4"/><text class="t" x="647" y="6306.3">1、学生各种学习习惯的培养。</text></g>
<g id="p5-c2b"><rect class="n" x="569" y="6340" width="238" height="40.4" rx="4"/><text class="t" x="575" y="6356.3">2、发展学生的思维能力、倾听能力、质疑能<tspan x="575" dy="14.7">力、合作能力。</tspan></text></g>
<g id="p5-c3"><rect class="n" x="829" y="6982" width="79" height="25.7" rx="4"/><text class="t" x="835" y="6998.3">三、实施过程</text></g>
<g id="p5-c3a"><rect class="n" x="711" y="6480" width="96" height="25.7" rx="4"/><text class="t" x="717" y="6496.3">1、习惯的培养。</text></g>
<g id="p5-c3a1"><rect class="n" x="539" y="6404" width="149" height="25.7" rx="4"/><text class="t" x="545" y="6420.3">(1)游戏：跟我做、举手等。</text></g>
<g id="p5-c3a2"><rect class="n" x="470" y="6454" width="218" height="25.7" rx="4"/><text class="t" x="476" y="6470.3">(2)对对歌：进教室、抬头挺胸、坐端正。</text></g>
<g id="p5-c3a3"><rect class="n" x="619" y="6505" width="69" height="25.7" rx="4"/><text class="t" x="625" y="6521.3">(3)手指操。</text></g>
<g id="p5-c3a4"><rect class="n" x="527" y="6555" width="161" height="25.7" rx="4"/><text class="t" x="533" y="6571.3">(4)儿歌：一九一九好朋友等。</text></g>
<g id="p5-c3b"><rect class="n" x="711" y="6729" width="96" height="25.7" rx="4"/><text class="t" x="717" y="6745.3">2、营造向上氛围</text></g>
<g id="p5-c3b1"><rect class="n" x="450" y="6606" width="238" height="40.4" rx="4"/><text class="t" x="456" y="6622.3">根据学生的年龄特点，努力营造平等、团结、<tspan x="456" dy="14.7">和谐、进取的班级氛围。</tspan></text></g>
<g id="p5-c3b2"><rect class="n" x="450" y="6672" width="238" height="40.4" rx="4"/><text class="t" x="456" y="6688.3">(1)制定班级公约、班风，给自己班级、小队<tspan x="456" dy="14.7">取个新名字等。</tspan></text></g>
<g id="p5-c3b3"><rect class="n" x="450" y="6738" width="238" height="55.1" rx="4"/><text class="t" x="456" y="6754.3">(2)布置教室环境。如设立"袖珍图书角"、"卫<tspan x="456" dy="14.7">生角"、"金色童年"、"我们在这里成长"等文</tspan><tspan x="456" dy="14.7">化背景。</tspan></text></g>
<g id="p5-c3b4"><rect class="n" x="450" y="6817" width="238" height="84.5" rx="4"/><text class="t" x="456" y="6833.3">(3)让学生参与班级管理，培养学生的组织能<tspan x="456" dy="14.7">力和责任心，使每个学生都有成功的机会和成</tspan><tspan x="456" dy="14.7">就感。培养学生的参与意识，提供显示学生才</tspan><tspan x="456" dy="14.7">华的机会，在潜移默化中逐渐形成自理自治能</tspan><tspan x="456" dy="14.7">力，体现学生的主体地位，发掘创新精神。</tspan></text></g>
<g id="p5-c3c"><rect class="n" x="608" y="6998" width="199" height="25.7" rx="4"/><text class="t" x="614" y="7014.3">3、合作能力的培养：指导培养小干部</text></g>
<g id="p5-c3c1"><rect class="n" x="348" y="6926" width="237" height="172.7" rx="4"/><text class="t" x="354" y="6942.3">班级小干部是班主任的左右手。要认真选拔小<tspan x="354" dy="14.7">干部，同时要精心培养小干部。第一，帮助小</tspan><tspan x="354" dy="14.7">干部树立威信;第二，鼓励小干部大胆工作，</tspan><tspan x="354" dy="14.7">指点他们工作方法;第三，严格要求小干部在</tspan><tspan x="354" dy="14.7">知识、能力上取得更大进步，在纪律上以身作</tspan><tspan x="354" dy="14.7">则，力求从各方面给全班起到模范带头作用，</tspan><tspan x="354" dy="14.7">亦即"以点带面";第四，培养干部团结协作的</tspan><tspan x="354" dy="14.7">精神，要能够通过干部这个小集体建立正确、</tspan><tspan x="354" dy="14.7">健全的舆论，带动整个班集体开展批评与自我</tspan><tspan x="354" dy="14.7">批评，形成集体的组织性、纪律性和进取心，</tspan><tspan x="354" dy="14.7">亦即"以面带面"。</tspan></text></g>
<g id="p5-c3d"><rect class="n" x="631" y="7258" width="176" height="25.7" rx="4"/><text class="t" x="637" y="7274.3">4、针对特殊学生，开展特殊教育</text></g>
<g id="p5-c3d1"><rect class="n" x="370" y="7121" width="239" height="55.1" rx="4"/><text class="t" x="376" y="7137.3">①期初排出特殊学生名单(贫困家庭学生、智<tspan x="376" dy="14.7">力障碍学生、自控力差生)，学校建立特殊学</tspan><tspan x="376" dy="14.7">生档案。</tspan></text></g>
<g id="p5-c3d2"><rect class="n" x="370" y="7200" width="239" height="40.4" rx="4"/><text class="t" x="376" y="7216.3">②通过多种途径，采取多种方法，对特殊学生<tspan x="376" dy="14.7">开展教育。</tspan></text></g>
<g id="p5-c3d3"><rect class="n" x="370" y="7266" width="239" height="55.1" rx="4"/><text class="t" x="376" y="7282.3">③针对行为习惯差、自控力差的学生，开学初<tspan x="376" dy="14.7">计划用一周的时间重点培养学生的各种学习习</tspan><tspan x="376" dy="14.7">惯。</tspan></text></g>
<g id="p5-c3d4"><rect class="n" x="370" y="7368" width="239" height="55.1" rx="4"/><text class="t" x="376" y="7384.3">④开展"帮困"活动。通过"结对助困"等活动，<tspan x="376" dy="14.7">从生活、学习等方面对贫困学生进行关心帮助</tspan><tspan x="376" dy="14.7">。</tspan></text></g>
<g id="p5-c3d4a"><rect class="n" x="110" y="7346" width="239" height="99.2" rx="4"/><text class="t" x="116" y="7362.3">通过观察、与学生谈心、听取各方意见，建立<tspan x="116" dy="14.7">起丰富的信息网络，随时掌握与调控特殊学生</tspan><tspan x="116" dy="14.7">的心理健康状况和思想行为动向。要力争和班</tspan><tspan x="116" dy="14.7">主任及家长对学生有一致的要求和态度，并时</tspan><tspan x="116" dy="14.7">常同他们交换意见。特别要充分调动家长的积</tspan><tspan x="116" dy="14.7">极性，取得共识，配合学校教育好孩子。</tspan></text></g>
<g id="p5-c3e"><rect class="n" x="569" y="7468" width="238" height="55.1" rx="4"/><text class="t" x="575" y="7484.3">5、其他各种能力的培养：备好每一节课、上<tspan x="575" dy="14.7">好每一节课、深入研究教材与学生，力求让每</tspan><tspan x="575" dy="14.7">一个学生每一节课都能得到较好的发展。</tspan></text></g>

<!-- Plan 2 (right) -->
<g id="plan2"><rect class="n" x="1505" y="3188.5" width="232" height="33" rx="16.5"/><text class="p" x="1621" y="3210">一年级小学数学上册教学计划2</text></g>
<g id="p2-d1"><rect class="n" x="1758" y="1837" width="79" height="25.7" rx="4"/><text class="t" x="1764" y="1853.3">一、基本情况</text></g>
<g id="p2-d1c"><rect class="n" x="1858" y="1777" width="239" height="143.3" rx="4"/><text class="t" x="1864" y="1793.3">本班共有26人，其中男生16人，女生10人。<tspan x="1864" dy="14.7">从整体上看，大多数学生思维活跃，课堂上</tspan><tspan x="1864" dy="14.7">能够积极参与，对数学学习有很高的兴趣，部</tspan><tspan x="1864" dy="14.7">分学生的语言表达比较好，能够完整、清晰地</tspan><tspan x="1864" dy="14.7">表达自己的见解。班中部分学生的听讲习惯不</tspan><tspan x="1864" dy="14.7">是很好，注意力很难集中，不能很好控制自己</tspan><tspan x="1864" dy="14.7">的行为和语言，对于一些特殊的学生，要走加</tspan><tspan x="1864" dy="14.7">大和家长的沟通，了解孩子的各方面情况后，</tspan><tspan x="1864" dy="14.7">针对性地进行教育。</tspan></text></g>
<g id="p2-d2"><rect class="n" x="1758" y="2907" width="80" height="25.7" rx="4"/><text class="t" x="1764" y="2923.3">二、教学目标</text></g>
<g id="p2-d2a"><rect class="n" x="1859" y="1947" width="237" height="69.8" rx="4"/><text class="t" x="1865" y="1963.3">根据新课标的要求，结合实验教科书第一册的<tspan x="1865" dy="14.7">内容和我县的实验情况从知识技能、数学思考</tspan><tspan x="1865" dy="14.7">、解决问题、情感与态度等这四个方面确定全</tspan><tspan x="1865" dy="14.7">册的教学目标。</tspan></text></g>
<g id="p2-d2b"><rect class="n" x="1859" y="2041" width="237" height="84.5" rx="4"/><text class="t" x="1865" y="2057.3">这一册教材包括下面一些内容：准备课，位置<tspan x="1865" dy="14.7">，10以内数的认识和加减法，认识立体图形</tspan><tspan x="1865" dy="14.7">，11～20各数的认识，认识钟表，20以内的</tspan><tspan x="1865" dy="14.7">进位加法，用数学解决问题，综合与实践主题</tspan><tspan x="1865" dy="14.7">活动。</tspan></text></g>
<g id="p2-d2c"><rect class="n" x="1859" y="2505" width="87" height="25.7" rx="4"/><text class="t" x="1865" y="2521.3">(一)知识与技能</text></g>
<g id="p2-k1"><rect class="n" x="1967" y="2149" width="238" height="99.2" rx="4"/><text class="t" x="1973" y="2165.3">1、经历从日常生活中抽象出数的过程，能熟<tspan x="1973" dy="14.7">练地数出数量在20以内物体的个数，会区分</tspan><tspan x="1973" dy="14.7">几个和第几个。会用数表示物体的个数或事物</tspan><tspan x="1973" dy="14.7">的顺序，能比较数的大小，掌握10以内各数</tspan><tspan x="1973" dy="14.7">与20以内数的组成，能认、读、写0-20各数</tspan><tspan x="1973" dy="14.7">。</tspan></text></g>
<g id="p2-k2"><rect class="n" x="1967" y="2272" width="238" height="40.4" rx="4"/><text class="t" x="1973" y="2288.3">2、初步了解数位和计数单位：知道个位、十<tspan x="1973" dy="14.7">位上的数各表示什么意义。</tspan></text></g>
<g id="p2-k3"><rect class="n" x="1967" y="2337" width="233" height="25.7" rx="4"/><text class="t" x="1973" y="2353.3">3、结合具体情境，初步体会加减法的含义。</text></g>
<g id="p2-k4"><rect class="n" x="1967" y="2388" width="238" height="55.1" rx="4"/><text class="t" x="1973" y="2404.3">4、知道加减法各部分的名称，初步体会加减<tspan x="1973" dy="14.7">法之间的互逆关系，能熟练地口算10以内的</tspan><tspan x="1973" dy="14.7">加减法和20以内进位加法。</tspan></text></g>
<g id="p2-k5"><rect class="n" x="1967" y="2467" width="238" height="40.4" rx="4"/><text class="t" x="1973" y="2483.3">5、认识符号"&gt;"、"&lt;"、"="，会用这些符号<tspan x="1973" dy="14.7">表示20以内数的大小。</tspan></text></g>
<g id="p2-k6"><rect class="n" x="1967" y="2533" width="238" height="69.8" rx="4"/><text class="t" x="1973" y="2549.3">6、通过实物和模型辨认长方体、正方体、圆<tspan x="1973" dy="14.7">柱、球等立体图形，能辨认长方形、三角形、</tspan><tspan x="1973" dy="14.7">正方形、圆等平面图形，会用这些图形进行拼</tspan><tspan x="1973" dy="14.7">图。</tspan></text></g>
<g id="p2-k7"><rect class="n" x="1967" y="2626" width="238" height="40.4" rx="4"/><text class="t" x="1973" y="2642.3">7、初步了解事物比较和分类的方法，结合实<tspan x="1973" dy="14.7">际，能把同类事物进行比较和分类。</tspan></text></g>
<g id="p2-k8"><rect class="n" x="1967" y="2691" width="199" height="25.7" rx="4"/><text class="t" x="1973" y="2707.3">8、初步认识钟表，会认整时和半时。</text></g>
<g id="p2-k9"><rect class="n" x="1967" y="2742" width="238" height="40.4" rx="4"/><text class="t" x="1973" y="2758.3">9、初步学习对日常生活中的数据进行收集和<tspan x="1973" dy="14.7">整理，会看、填写简单的统计图和统计表。</tspan></text></g>
<g id="p2-k10"><rect class="n" x="1967" y="2807" width="238" height="55.1" rx="4"/><text class="t" x="1973" y="2823.3">10、初步培养学生操作、观察、比较、辨析<tspan x="1973" dy="14.7">、整理、概括、语言表达、用数学交流的能力</tspan><tspan x="1973" dy="14.7">。</tspan></text></g>
<g id="p2-d2d"><rect class="n" x="1859" y="3071" width="76" height="25.7" rx="4"/><text class="t" x="1865" y="3087.3">(二)解决问题</text></g>
<g id="p2-s1"><rect class="n" x="1955" y="2887" width="239" height="40.4" rx="4"/><text class="t" x="1961" y="2903.3">1、能用0—20各数表示日常生活中的一些事<tspan x="1961" dy="14.7">物。</tspan></text></g>
<g id="p2-s2"><rect class="n" x="1955" y="2952" width="239" height="55.1" rx="4"/><text class="t" x="1961" y="2968.3">2、初步学会根据加减法的含义和10以内的加<tspan x="1961" dy="14.7">减、20以内的进位加法，解决生活中的一些</tspan><tspan x="1961" dy="14.7">简单问题。</tspan></text></g>
<g id="p2-s3"><rect class="n" x="1955" y="3032" width="239" height="55.1" rx="4"/><text class="t" x="1961" y="3048.3">3、能比较出学生生活中事物(在20以内)数量<tspan x="1961" dy="14.7">的多少、长短和高矮，能给生活中的一些事物</tspan><tspan x="1961" dy="14.7">分类。</tspan></text></g>
<g id="p2-s4"><rect class="n" x="1955" y="3111" width="239" height="40.4" rx="4"/><text class="t" x="1961" y="3127.3">4、结合自己的生活经验，初步体验1时、几<tspan x="1961" dy="14.7">时、半时的长短。</tspan></text></g>
<g id="p2-s5"><rect class="n" x="1955" y="3177" width="239" height="40.4" rx="4"/><text class="t" x="1961" y="3193.3">5、能根据简单统计图表的信息，提出问题，<tspan x="1961" dy="14.7">解决问题。</tspan></text></g>
<g id="p2-s6"><rect class="n" x="1955" y="3242" width="239" height="40.4" rx="4"/><text class="t" x="1961" y="3258.3">6、用不同的方法解决同一个问题，发展学生<tspan x="1961" dy="14.7">思维的灵活性、实践能力和创新意识。</tspan></text></g>
<g id="p2-d2e"><rect class="n" x="1859" y="3848" width="131" height="25.7" rx="4"/><text class="t" x="1865" y="3864.3">(三)情感、态度、价值观</text></g>
<g id="p2-e1"><rect class="n" x="2013" y="3523" width="221" height="25.7" rx="4"/><text class="t" x="2019" y="3539.3">1、初步养成良好的学习能力和学习习惯。</text></g>
<g id="p2-e1a"><rect class="n" x="2257" y="3306" width="238" height="40.4" rx="4"/><text class="t" x="2263" y="3322.3">(1)会看。会看数学书，能在书上找到要学习的<tspan x="2263" dy="14.7">内容。</tspan></text></g>
<g id="p2-e1b"><rect class="n" x="2257" y="3371" width="238" height="40.4" rx="4"/><text class="t" x="2263" y="3387.3">(2)会听。能听懂老师和学生的讲话，能边听、<tspan x="2263" dy="14.7">边想。</tspan></text></g>
<g id="p2-e1c"><rect class="n" x="2257" y="3436" width="238" height="40.4" rx="4"/><text class="t" x="2263" y="3452.3">(3)会想。能根据一些信息提出数学问题,会根<tspan x="2263" dy="14.7">据数学问题，想出解决问题的方法。</tspan></text></g>
<g id="p2-e1d"><rect class="n" x="2257" y="3502" width="238" height="40.4" rx="4"/><text class="t" x="2263" y="3518.3">(4)会说。能把自己想的说出来，会说三句完整<tspan x="2263" dy="14.7">的话。</tspan></text></g>
<g id="p2-e1e"><rect class="n" x="2257" y="3566" width="203" height="25.7" rx="4"/><text class="t" x="2263" y="3582.3">(5)会用。会用学具学习一些数学内容。</text></g>
<g id="p2-e1f"><rect class="n" x="2257" y="3616" width="238" height="40.4" rx="4"/><text class="t" x="2263" y="3632.3">(6)会做。会做数学作业，书写规范，格式正确<tspan x="2263" dy="14.7">，认真细心，能自己出题自己做，能检查。</tspan></text></g>
<g id="p2-e1g"><rect class="n" x="2257" y="3682" width="192" height="25.7" rx="4"/><text class="t" x="2263" y="3698.3">(7)能讨论。能与同学讨论数学问题。</text></g>
<g id="p2-e1h"><rect class="n" x="2257" y="3732" width="203" height="25.7" rx="4"/><text class="t" x="2263" y="3748.3">(8)能评价。能作自我评价与评价他人。</text></g>
<g id="p2-e2"><rect class="n" x="2013" y="3782" width="238" height="69.8" rx="4"/><text class="t" x="2019" y="3798.3">2、在合作交流过程中，积极主动地参与数学<tspan x="2019" dy="14.7">活动，积极思考，争取发言，尊重别人，认真</tspan><tspan x="2019" dy="14.7">倾听他人发言，有获得成功的体验，增强自信</tspan><tspan x="2019" dy="14.7">心。</tspan></text></g>
<g id="p2-e3"><rect class="n" x="2013" y="3877" width="221" height="25.7" rx="4"/><text class="t" x="2019" y="3893.3">3、养成遵守时间、珍惜时间的良好美德。</text></g>
<g id="p2-e4"><rect class="n" x="2013" y="3927" width="238" height="40.4" rx="4"/><text class="t" x="2019" y="3943.3">4、爱护学具、文具、数学书、作业本、书包<tspan x="2019" dy="14.7">，养成勤学习、有条理、讲究美的好习惯。</tspan></text></g>
<g id="p2-e5"><rect class="n" x="2013" y="3992" width="238" height="40.4" rx="4"/><text class="t" x="2019" y="4008.3">5、初步体验学习数学的价值，感受用数学的<tspan x="2019" dy="14.7">乐趣，与同伴交流的乐趣。</tspan></text></g>
<g id="p2-e6"><rect class="n" x="2013" y="4159" width="238" height="55.1" rx="4"/><text class="t" x="2019" y="4175.3">6、受到关心集体、热爱家乡、热爱自然、保<tspan x="2019" dy="14.7">护环境等思想教育，促进学生在情感态度等方</tspan><tspan x="2019" dy="14.7">面健康发展。</tspan></text></g>
<g id="p2-e6a"><rect class="n" x="2273" y="4057" width="90" height="25.7" rx="4"/><text class="t" x="2279" y="4073.3">教学重点、难点</text></g>
<g id="p2-e6b"><rect class="n" x="2273" y="4108" width="238" height="128.6" rx="4"/><text class="t" x="2279" y="4124.3">本册教材的重点教学内容是10以内的加减法<tspan x="2279" dy="14.7">和20以内的进位加法。这两部分内容和20以</tspan><tspan x="2279" dy="14.7">内的退位减法是学生学习认数和计算的开始，</tspan><tspan x="2279" dy="14.7">在日常生活中有广泛的应用，同时它们又是多</tspan><tspan x="2279" dy="14.7">位数计算的基础。因此，一位数的加法和相应</tspan><tspan x="2279" dy="14.7">的减法是小学数学中最基础的内容。是学生终</tspan><tspan x="2279" dy="14.7">身学习与发展必备的基础知识和基本技能，必</tspan><tspan x="2279" dy="14.7">须让学生切实掌握。</tspan></text></g>
<g id="p2-e6c"><rect class="n" x="2273" y="4261" width="238" height="84.5" rx="4"/><text class="t" x="2279" y="4277.3">除了认数和计算外，教材安排了常见几何图形<tspan x="2279" dy="14.7">的直观认识，比较多少、长短和高矮，简单的</tspan><tspan x="2279" dy="14.7">分类，以及初步认识钟面等。虽然每一单元内</tspan><tspan x="2279" dy="14.7">容都不多，但都很重要，有利于学生了解数学</tspan><tspan x="2279" dy="14.7">的实际应用，培养学生学习数学的兴趣。</tspan></text></g>
<g id="p2-d3"><rect class="n" x="1758" y="4550" width="90" height="25.7" rx="4"/><text class="t" x="1764" y="4566.3">三、方法与措施</text></g>
<g id="p2-d3a"><rect class="n" x="1870" y="4369" width="238" height="55.1" rx="4"/><text class="t" x="1876" y="4385.3">1、认真研究《标准》和教科书，改变教学理<tspan x="1876" dy="14.7">念，充分利用教材资源，寻找学生熟悉的数学</tspan><tspan x="1876" dy="14.7">生活，使之进入课堂。</tspan></text></g>
<g id="p2-d3b"><rect class="n" x="1870" y="4449" width="238" height="40.4" rx="4"/><text class="t" x="1876" y="4465.3">2、采用多样化的教学手段，激发学生的学习<tspan x="1876" dy="14.7">兴趣。</tspan></text></g>
<g id="p2-d3c"><rect class="n" x="1870" y="4514" width="238" height="40.4" rx="4"/><text class="t" x="1876" y="4530.3">3、加强演示、观察与操作，让学生经历用数<tspan x="1876" dy="14.7">字和数学符号描述现实世界的过程。</tspan></text></g>
<g id="p2-d3d"><rect class="n" x="1870" y="4579" width="238" height="40.4" rx="4"/><text class="t" x="1876" y="4595.3">4、在学习方式上倡导学生自主探索、合作交<tspan x="1876" dy="14.7">流。</tspan></text></g>
<g id="p2-d3e"><rect class="n" x="1870" y="4644" width="238" height="40.4" rx="4"/><text class="t" x="1876" y="4660.3">5、注意结合教学内容适时渗透思想品德教育<tspan x="1876" dy="14.7">。</tspan></text></g>
<g id="p2-d3f"><rect class="n" x="1870" y="4708" width="238" height="40.4" rx="4"/><text class="t" x="1876" y="4724.3">6、对学生坚持正面评价，帮助学生树立学好<tspan x="1876" dy="14.7">数学的信心，以促进学生全面发展。</tspan></text></g>

<!-- Plan 4 (right) -->
<g id="plan4"><rect class="n" x="1505" y="5759.5" width="232" height="33" rx="16.5"/><text class="p" x="1621" y="5781">一年级小学数学上册教学计划4</text></g>
<g id="p4-f1"><rect class="n" x="1758" y="4839" width="101" height="25.7" rx="4"/><text class="t" x="1764" y="4855.3">一、学生情况分析</text></g>
<g id="p4-f1c"><rect class="n" x="1882" y="4773" width="238" height="158" rx="4"/><text class="t" x="1888" y="4789.3">本学期我担任一(1)班和一(2)班的数学教师，<tspan x="1888" dy="14.7">任务较重，所以必须投入更多的精力来完成本</tspan><tspan x="1888" dy="14.7">学期的教学任务。一(1)班共有学生55人，其</tspan><tspan x="1888" dy="14.7">中男28人，女27人，一(2)班共有学生55人，</tspan><tspan x="1888" dy="14.7">其中男29人，女26人。从学生人数上观察，</tspan><tspan x="1888" dy="14.7">男生多于女生，那么课堂纪律便是一项较棘手</tspan><tspan x="1888" dy="14.7">的问题，再加上一年级孩子表达能力不是很强</tspan><tspan x="1888" dy="14.7">，也不够完整，所以这学期的重点任务是：着</tspan><tspan x="1888" dy="14.7">重培养学生的表达能力，养成良好的学习习惯</tspan><tspan x="1888" dy="14.7">和生活习惯。</tspan></text></g>
<g id="p4-f2"><rect class="n" x="1758" y="5717" width="136" height="25.7" rx="4"/><text class="t" x="1764" y="5733.3">二、教材分析和教学目标</text></g>
<g id="p4-f2a"><rect class="n" x="1915" y="5302" width="76" height="25.7" rx="4"/><text class="t" x="1921" y="5318.3">(一)数与代数</text></g>
<g id="p4-u1"><rect class="n" x="2013" y="4956" width="238" height="113.9" rx="4"/><text class="t" x="2019" y="4972.3">1、第一单元《生活中的数》。基于儿童数数<tspan x="2019" dy="14.7">的经验，结合具体的情景认识10以内的数的</tspan><tspan x="2019" dy="14.7">意义，会认、会读、会写0——10的数，会用</tspan><tspan x="2019" dy="14.7">它们表示物体的个数或事物的顺序，初步体会</tspan><tspan x="2019" dy="14.7">基数与序数的含义，初步感受"数"与生活的密</tspan><tspan x="2019" dy="14.7">切联系，初步体验学习数学的乐趣，初步形成</tspan><tspan x="2019" dy="14.7">良好的学习习惯。</tspan></text></g>
<g id="p4-u2"><rect class="n" x="2013" y="5094" width="238" height="128.6" rx="4"/><text class="t" x="2019" y="5110.3">2、第二单元《比较》。通过比较具体数量多<tspan x="2019" dy="14.7">少的数学活动，获得对"&gt;、&lt;、="等符号的</tspan><tspan x="2019" dy="14.7">意义的理解，并会用这些符号表示10以内的</tspan><tspan x="2019" dy="14.7">数的大小;经历比高矮、比轻重、比长短等实</tspan><tspan x="2019" dy="14.7">践操作或数学思考活动，体验"比"的方法的多</tspan><tspan x="2019" dy="14.7">样性与合理性;并在描述或倾听各自思考过程</tspan><tspan x="2019" dy="14.7">的交流中，体会学会有条理的表示自己思想和</tspan><tspan x="2019" dy="14.7">学会倾听的重要性。</tspan></text></g>
<g id="p4-u3"><rect class="n" x="2013" y="5247" width="238" height="113.9" rx="4"/><text class="t" x="2019" y="5263.3">3、第三单元《加减法（一）》。经历从实际<tspan x="2019" dy="14.7">问题抽象10以内的加减算式，并加以解释和</tspan><tspan x="2019" dy="14.7">应用的过程，体会加减法的含义，初步感受加</tspan><tspan x="2019" dy="14.7">减法与生活的密切联系;能正确口算10以内的</tspan><tspan x="2019" dy="14.7">加减法，掌握10以内数的分解与合成的技能;</tspan><tspan x="2019" dy="14.7">通过整理加、减法算式，并探索其间规律性的</tspan><tspan x="2019" dy="14.7">活动，培养与发展数感。</tspan></text></g>
<g id="p4-u4"><rect class="n" x="2013" y="5385" width="238" height="158" rx="4"/><text class="t" x="2019" y="5401.3">4、第七单元《加减法（二）》。经历表示11<tspan x="2019" dy="14.7">—20的数的具体操作及其概括过程，初步体</tspan><tspan x="2019" dy="14.7">会用十进制记数的位值原理，会数、读、写2</tspan><tspan x="2019" dy="14.7">0日内数，掌握它们的顺序，会比较它们的大</tspan><tspan x="2019" dy="14.7">小，结合解决问题的活动，进行简单的、有条</tspan><tspan x="2019" dy="14.7">理的思考;经历与同伴交流各自算法的过程，</tspan><tspan x="2019" dy="14.7">体会算法的多样性，学会20以内的进位和退</tspan><tspan x="2019" dy="14.7">位，逐步的熟练口算20以内的加减法，并能</tspan><tspan x="2019" dy="14.7">解决简单的问题，感受加减法与日常生活的密</tspan><tspan x="2019" dy="14.7">切联系，感受数学思考过程的合理性。</tspan></text></g>
<g id="p4-u5"><rect class="n" x="2013" y="5568" width="238" height="99.2" rx="4"/><text class="t" x="2019" y="5584.3">5、第八单元《认识钟表》。结合日常作息时<tspan x="2019" dy="14.7">间，学会认读钟面上表示整时、半时的时刻，</tspan><tspan x="2019" dy="14.7">了解记时的书写方法，并会用"快几时了"或"</tspan><tspan x="2019" dy="14.7">刚过几时"等词语描述时间，经历简单而熟悉</tspan><tspan x="2019" dy="14.7">的操作活动，体验时间的长短，培养珍惜时间</tspan><tspan x="2019" dy="14.7">的态度和合理安排时间的良好习惯。</tspan></text></g>
<g id="p4-f2b"><rect class="n" x="1915" y="5764" width="87" height="25.7" rx="4"/><text class="t" x="1921" y="5780.3">(二)空间与图形</text></g>
<g id="p4-v1"><rect class="n" x="2023" y="5690" width="239" height="69.8" rx="4"/><text class="t" x="2029" y="5706.3">1、第五单元《位置与顺序》。结合生动有趣<tspan x="2029" dy="14.7">的情境或活动，体会前、后、上、下、左、右</tspan><tspan x="2029" dy="14.7">的位置与顺序，回用前、后、上、下、左、右</tspan><tspan x="2029" dy="14.7">描述物体的相对位置，建立初步的空间观念。</tspan></text></g>
<g id="p4-v2"><rect class="n" x="2023" y="5785" width="239" height="84.5" rx="4"/><text class="t" x="2029" y="5801.3">2、第六单元《认识物体》。通过对实物和模<tspan x="2029" dy="14.7">型的观察、操作、分类等活动，获得对简单几</tspan><tspan x="2029" dy="14.7">何体的直观经验，能直观辨认它们的形状是长</tspan><tspan x="2029" dy="14.7">方形、正方形、圆柱或球，能直观辨认长方形</tspan><tspan x="2029" dy="14.7">、正方形、圆柱或球等立体图形。</tspan></text></g>
<g id="p4-f2c"><rect class="n" x="1915" y="5982" width="87" height="25.7" rx="4"/><text class="t" x="1921" y="5998.3">(三)统计与概率</text></g>
<g id="p4-w1"><rect class="n" x="2023" y="5894" width="239" height="84.5" rx="4"/><text class="t" x="2029" y="5910.3">1、第四单元《分类》。结合日常生活中必须<tspan x="2029" dy="14.7">进行的分类活动，感受分类的必要性，能按照</tspan><tspan x="2029" dy="14.7">给定的标准或选择某个标准对物体进行比较、</tspan><tspan x="2029" dy="14.7">排列和分类，并在这些活动中体验活动结果在</tspan><tspan x="2029" dy="14.7">同一标准下的一致性、不同标准下的多样性。</tspan></text></g>
<g id="p4-w2"><rect class="n" x="2023" y="6003" width="239" height="99.2" rx="4"/><text class="t" x="2029" y="6019.3">2、第九单元《统计》。根据简单的÷现实的<tspan x="2029" dy="14.7">问题进行统计活动÷经历数据的收集、整理、</tspan><tspan x="2029" dy="14.7">描述和分析的全过程，感受统计的必要性;结</tspan><tspan x="2029" dy="14.7">合实例，认识统计表和形象统计图，会填补相</tspan><tspan x="2029" dy="14.7">应当图标;能根据统计图表中的数据提出并回</tspan><tspan x="2029" dy="14.7">答简单的问题，并同伴交流自己的想法。</tspan></text></g>
<g id="p4-f2d"><rect class="n" x="1915" y="6134" width="76" height="25.7" rx="4"/><text class="t" x="1921" y="6150.3">(四)实践活动</text></g>
<g id="p4-f2d1"><rect class="n" x="2013" y="6124" width="238" height="40.4" rx="4"/><text class="t" x="2019" y="6140.3">本册教材的正文和习题中提供了许多适合一年<tspan x="2019" dy="14.7">级小学生的实践活动或小调查。</tspan></text></g>
<g id="p4-f3"><rect class="n" x="1758" y="6368" width="136" height="25.7" rx="4"/><text class="t" x="1764" y="6384.3">三、本册教材的教学方面</text></g>
<g id="p4-g1"><rect class="n" x="1915" y="6227" width="189" height="25.7" rx="4"/><text class="t" x="1921" y="6243.3">(一)数学教学要符合学生的认知水平</text></g>
<g id="p4-g1c"><rect class="n" x="2126" y="6191" width="239" height="99.2" rx="4"/><text class="t" x="2132" y="6207.3">数学教学必须遵循学生学习数学的心理规律，<tspan x="2132" dy="14.7">符合学生的发展水平和数学接受能力。符合学</tspan><tspan x="2132" dy="14.7">生的发展水平的教学应有实际背景，利用学生</tspan><tspan x="2132" dy="14.7">的经验，使用学生可以接受的语言，让学生有</tspan><tspan x="2132" dy="14.7">足够的时间通过探索和考察数学概念得出含义</tspan><tspan x="2132" dy="14.7">，使学生有机会讨论他们的想法。</tspan></text></g>
<g id="p4-g2"><rect class="n" x="1915" y="6343" width="234" height="25.7" rx="4"/><text class="t" x="1921" y="6359.3">(二)要逐步培养学生的合作学习的意识和能力</text></g>
<g id="p4-g2c"><rect class="n" x="2172" y="6315" width="238" height="84.5" rx="4"/><text class="t" x="2178" y="6331.3">为了避免小组学习流于形式，就必须用心培养<tspan x="2178" dy="14.7">学生交流技能。交流既有信息输出，也有信息</tspan><tspan x="2178" dy="14.7">输入，所以加谈、倾听、阅读、书写是基本的</tspan><tspan x="2178" dy="14.7">交流技能;此外对数学而言，交流还应具有描</tspan><tspan x="2178" dy="14.7">述的技能。</tspan></text></g>
<g id="p4-g3"><rect class="n" x="1915" y="6437" width="200" height="25.7" rx="4"/><text class="t" x="1921" y="6453.3">(三)紧扣数学活动的目的设计安排活动</text></g>
<g id="p4-g3c"><rect class="n" x="2137" y="6423" width="239" height="55.1" rx="4"/><text class="t" x="2143" y="6439.3">数学教学活动是数学的教学，每一个教学活动<tspan x="2143" dy="14.7">都应该有明确的目的，而活动本身有是实现目</tspan><tspan x="2143" dy="14.7">的的手段和过程。</tspan></text></g>
<g id="p4-g4"><rect class="n" x="1915" y="6503" width="238" height="40.4" rx="4"/><text class="t" x="1921" y="6519.3">(四)做练习、写作业是数学课堂教学中巩固知<tspan x="1921" dy="14.7">识、习得技能的必要环节。</tspan></text></g>
<g id="p4-f4"><rect class="n" x="1758" y="6688" width="113" height="25.7" rx="4"/><text class="t" x="1764" y="6704.3">四、教材的评价方面</text></g>
<g id="p4-h1"><rect class="n" x="1893" y="6590" width="166" height="25.7" rx="4"/><text class="t" x="1899" y="6606.3">(一)重视对学生数学学习的评价</text></g>
<g id="p4-h1c"><rect class="n" x="2081" y="6566" width="238" height="69.8" rx="4"/><text class="t" x="2087" y="6582.3">要结合学习数学的过程评价学生对数学概念知<tspan x="2087" dy="14.7">识的理解。学生只有理解了数学概念和它们的</tspan><tspan x="2087" dy="14.7">意义或解释，他们才能理解数学、有意义的"</tspan><tspan x="2087" dy="14.7">做数学"。</tspan></text></g>
<g id="p4-h2"><rect class="n" x="1893" y="6669" width="238" height="40.4" rx="4"/><text class="t" x="1899" y="6685.3">(二)重视对学生初步的发现问题和解决问题能<tspan x="1899" dy="14.7">力的评价</tspan></text></g>
<g id="p4-h2c"><rect class="n" x="2153" y="6662" width="237" height="55.1" rx="4"/><text class="t" x="2159" y="6678.3">对解决问题的评价，首先应注意评价学生对问<tspan x="2159" dy="14.7">题的描述，即怎样把情境图呈现的问题，用口</tspan><tspan x="2159" dy="14.7">头语言完整地描述出来。</tspan></text></g>
<g id="p4-h3"><rect class="n" x="1893" y="6784" width="234" height="25.7" rx="4"/><text class="t" x="1899" y="6800.3">(三)重视对学生学习数学的情感与态度的评价</text></g>
<g id="p4-h3c"><rect class="n" x="2149" y="6742" width="238" height="113.9" rx="4"/><text class="t" x="2155" y="6758.3">对一年级学生学习数学的情感与态度的评价，<tspan x="2155" dy="14.7">主要通过课堂观察来收集有关的信息，象他们</tspan><tspan x="2155" dy="14.7">参与班级讨论中，试图解决问题中，独立或小</tspan><tspan x="2155" dy="14.7">组学习中，无时不在显示他们对数学学习的情</tspan><tspan x="2155" dy="14.7">感与态度，能看出是否有信心，是否有兴趣，</tspan><tspan x="2155" dy="14.7">是否乐于探究，是否有毅力，是否有好奇心，</tspan><tspan x="2155" dy="14.7">谁敢于质疑。</tspan></text></g>

<!-- Related -->
<g id="related"><rect class="n" x="1505" y="7093" width="279" height="53" rx="26.5"/><text class="q" x="1530" y="7114">一年级小学数学上册教学计划相关<tspan x="1530" dy="22">文章:</tspan></text></g>
<g id="r1"><rect class="n" x="1806" y="6879" width="155" height="26" rx="4"/><text class="t" x="1812" y="6896">★ 数学老师教学计划分享5篇</text></g>
<g id="r2"><rect class="n" x="1806" y="6930" width="161" height="26" rx="4"/><text class="t" x="1812" y="6947">★ 小学数学教学计划范本10篇</text></g>
<g id="r3"><rect class="n" x="1806" y="6980" width="178" height="26" rx="4"/><text class="t" x="1812" y="6997">★ 小学数学教学教研计划范文5篇</text></g>
<g id="r4"><rect class="n" x="1806" y="7030" width="178" height="26" rx="4"/><text class="t" x="1812" y="7047">★ 数学个人教学计划范文参考5篇</text></g>
<g id="r5"><rect class="n" x="1806" y="7080" width="164" height="26" rx="4"/><text class="t" x="1812" y="7097">★ 小学数学教学计划范文2021</text></g>
<g id="r6"><rect class="n" x="1806" y="7131" width="228" height="26" rx="4"/><text class="t" x="1812" y="7148">★ 小学数学一年级上册分与合教案最新文档</text></g>
<g id="r7"><rect class="n" x="1806" y="7181" width="182" height="26" rx="4"/><text class="t" x="1812" y="7198">★ 小学一年级数学的教学方法五篇</text></g>
<g id="r8"><rect class="n" x="1806" y="7232" width="164" height="26" rx="4"/><text class="t" x="1812" y="7249">★ 小学数学教学计划措施2021</text></g>
<g id="r9"><rect class="n" x="1806" y="7282" width="189" height="26" rx="4"/><text class="t" x="1812" y="7299">★ 一年级数学上册教学工作总结5篇</text></g>
<g id="r10"><rect class="n" x="1806" y="7332" width="205" height="26" rx="4"/><text class="t" x="1812" y="7349">★ 数学一年级下册的系统教学计划范文</text></g>
</g>
</svg>
